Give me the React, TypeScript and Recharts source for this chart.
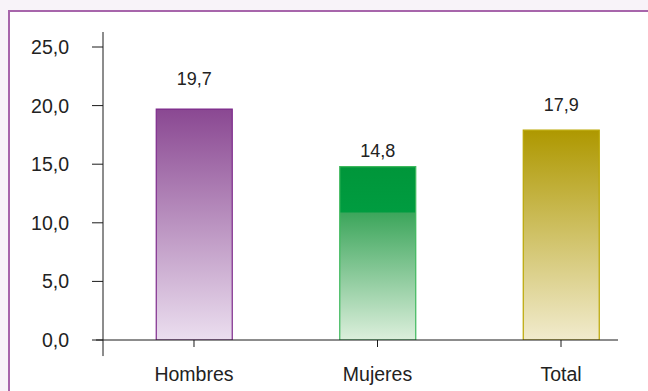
import { BarChart, Bar, XAxis, YAxis, LabelList, ReferenceLine, Cell } from 'recharts';

const categories = ['Hombres', 'Mujeres', 'Total'];
const values = [19.7, 14.8, 17.9];
const yTicks = [0, 5, 10, 15, 20, 25];

// gradient colours per bar (top, bottom) and outline
const BAR_STYLES = [
  { id: 'gHombres', stops: [[0, '#8A4892'], [1, '#EBDEEF']], stroke: '#7E2A8C' },
  { id: 'gMujeres', stops: [[0, '#00963A'], [0.26, '#009C40'], [0.27, '#3DA65C'], [1, '#DCEFDC']], stroke: '#3DB85C' },
  { id: 'gTotal', stops: [[0, '#AE9800'], [1, '#F1EBCD']], stroke: '#B9A500' },
];

// distance between label baseline and bar top, as in the original
const LABEL_GAP = [24, 10, 19];

const data = categories.map((name, i) => ({ x: i, name, value: values[i] }));

const fmt = (v: number) => v.toFixed(1).replace('.', ',');
const FONT = '"Liberation Sans", Arial, sans-serif';
const TEXT = '#222';

export default function App() {
  return (
    <div
      style={{
        position: 'absolute',
        left: 0,
        top: 0,
        width: 648,
        height: 391,
        background: '#F8F3F9',
        overflow: 'hidden',
        fontFamily: FONT,
      }}
    >
      <div
        style={{
          position: 'absolute',
          left: 8,
          top: 10,
          width: 660,
          height: 400,
          background: '#fff',
          borderTop: '2px solid #A765AB',
          borderLeft: '2px solid #A765AB',
        }}
      />
      <div style={{ position: 'absolute', left: 0, top: 0 }}>
        <BarChart
          width={648}
          height={391}
          data={data}
          margin={{ top: 32, right: 30, bottom: 0, left: 0 }}
        >
          <defs>
            {BAR_STYLES.map((s) => (
              <linearGradient key={s.id} id={s.id} x1="0" y1="0" x2="0" y2="1">
                {s.stops.map(([o, c]) => (
                  <stop key={String(o)} offset={o as number} stopColor={c as string} />
                ))}
              </linearGradient>
            ))}
          </defs>
          <XAxis
            dataKey="x"
            type="number"
            domain={[-0.4959, 2.3106]}
            ticks={[0, 1, 2]}
            allowDataOverflow
            tickFormatter={(v: number) => categories[v] ?? ''}
            height={51}
            axisLine={{ stroke: '#1a1a1a' }}
            tickLine={{ stroke: '#1a1a1a' }}
            tickSize={7}
            tickMargin={20}
            tick={{ fill: TEXT, fontSize: 19.5, fontFamily: FONT }}
          />
          <YAxis
            domain={[0, 26.28]}
            ticks={yTicks}
            allowDataOverflow
            width={103}
            tickFormatter={fmt}
            axisLine={{ stroke: '#1a1a1a' }}
            tickLine={{ stroke: '#1a1a1a' }}
            tickSize={11}
            tickMargin={23}
            tick={{ fill: TEXT, fontSize: 19.5, fontFamily: FONT }}
          />
          <ReferenceLine
            segment={[{ x: -0.4959, y: 0 }, { x: -0.4959, y: -1.37 }]}
            stroke="#1a1a1a"
            ifOverflow="visible"
          />
          <ReferenceLine
            segment={[{ x: -0.534, y: 0 }, { x: -0.4959, y: 0 }]}
            stroke="#1a1a1a"
            ifOverflow="visible"
          />
          <Bar dataKey="value" barSize={76} isAnimationActive={false}>
            {data.map((_, i) => (
              <Cell key={i} fill={`url(#${BAR_STYLES[i].id})`} stroke={BAR_STYLES[i].stroke} strokeWidth={1.2} />
            ))}
            <LabelList
              dataKey="value"
              content={(p: any) => {
                const { x, y, width, value, index } = p;
                return (
                  <text
                    x={Number(x) + Number(width) / 2}
                    y={Number(y) - LABEL_GAP[index]}
                    textAnchor="middle"
                    fill={TEXT}
                    fontSize={18}
                    fontFamily={FONT}
                  >
                    {fmt(Number(value))}
                  </text>
                );
              }}
            />
          </Bar>
        </BarChart>
      </div>
    </div>
  );
}
